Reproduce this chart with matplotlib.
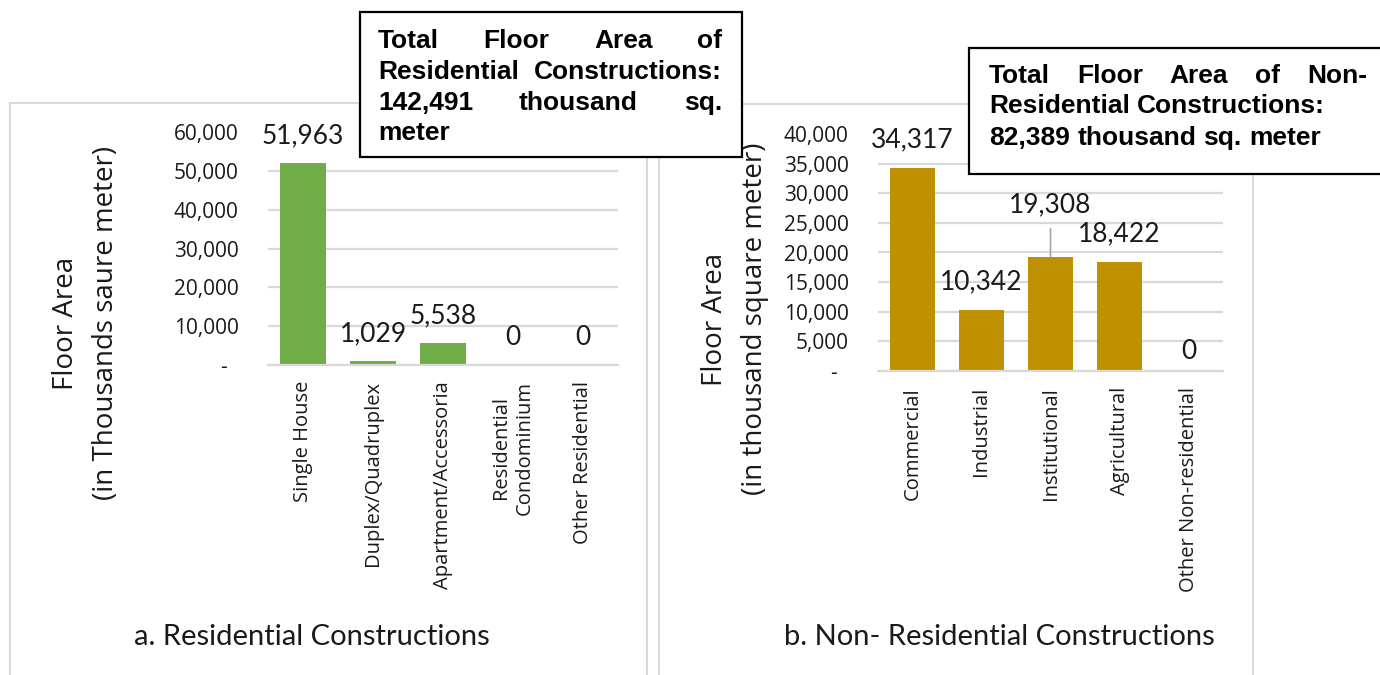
import matplotlib
matplotlib.use('Agg')
import matplotlib.pyplot as plt
from matplotlib.patches import Rectangle
from matplotlib.ticker import FuncFormatter

# ---------------- data ----------------
res_categories = ['Single House', 'Duplex/Quadruplex', 'Apartment/Accessoria',
                  'Residential\nCondominium', 'Other Residential']
res_values = [51963, 1029, 5538, 0, 0]
res_ticks = [0, 10000, 20000, 30000, 40000, 50000, 60000]
res_title = 'a. Residential Constructions'
res_ylabel = ['Floor Area', '(in Thousands saure meter)']
res_note_lines = ['Total Floor Area of', 'Residential Constructions:',
                  '142,491 thousand sq.', 'meter']

nonres_categories = ['Commercial', 'Industrial', 'Institutional', 'Agricultural',
                     'Other Non-residential']
nonres_values = [34317, 10342, 19308, 18422, 0]
nonres_ticks = [0, 5000, 10000, 15000, 20000, 25000, 30000, 35000, 40000]
nonres_title = 'b. Non- Residential Constructions'
nonres_ylabel = ['Floor Area', '(in thousand square meter)']
nonres_note_lines = ['Total Floor Area of Non-', 'Residential Constructions:',
                     '82,389 thousand sq. meter']

# ---------------- style ----------------
W, H = 1380, 675
GRID = '#d9d9d9'
TXT = '#1a1a1a'
fig = plt.figure(figsize=(W / 100, H / 100), dpi=100)


def fx(x):
    return x / W


def fy(y):
    return 1 - y / H


def yfmt(v, pos):
    return '-  ' if v == 0 else f'{v:,.0f}'


def make_panel(rect_px, cats, vals, ticks, color, label_offsets, leader_idx=None):
    x0, y0, x1, y1 = rect_px
    ax = fig.add_axes([fx(x0), fy(y1), (x1 - x0) / W, (y1 - y0) / H])
    xs = list(range(len(cats)))
    ax.bar(xs, vals, width=0.66, color=color, zorder=2)
    ax.set_xlim(-0.5, len(cats) - 0.5)
    ax.set_ylim(ticks[0], ticks[-1])
    ax.set_yticks(ticks)
    ax.yaxis.set_major_formatter(FuncFormatter(yfmt))
    ax.set_xticks(xs)
    ax.set_xticklabels(cats, rotation=90, fontsize=14.5, family='Open Sans',
                       color=TXT, multialignment='center')
    for lab in ax.get_yticklabels():
        lab.set_family('Open Sans')
    ax.tick_params(axis='y', length=0, pad=21, labelsize=15, labelcolor=TXT)
    ax.tick_params(axis='x', length=0, pad=11.5)
    for s in ['left', 'right', 'top']:
        ax.spines[s].set_visible(False)
    ax.spines['bottom'].set_color(GRID)
    ax.spines['bottom'].set_linewidth(1.6)
    ax.yaxis.grid(True, color=GRID, lw=1.6, zorder=0)
    ax.set_axisbelow(True)
    ax.get_ygridlines()[-1].set_visible(False)
    for i, v in enumerate(vals):
        kw = {}
        if leader_idx is not None and i == leader_idx:
            kw['arrowprops'] = dict(arrowstyle='-', color='#a6a6a6', lw=1.2,
                                    shrinkA=6, shrinkB=0)
        ax.annotate(f'{v:,}', (i, v), xytext=(0, label_offsets[i]),
                    textcoords='offset points', ha='center', va='baseline',
                    fontsize=19, family='Lato', color=TXT, zorder=3,
                    annotation_clip=False, **kw)
    return ax


# panel borders
fig.add_artist(Rectangle((fx(10), fy(700)), (647 - 10) / W, (700 - 103) / H,
                         fill=False, ec=GRID, lw=1.5, transform=fig.transFigure, zorder=0))
fig.add_artist(Rectangle((fx(659), fy(700)), (1253 - 659) / W, (700 - 104) / H,
                         fill=False, ec=GRID, lw=1.5, transform=fig.transFigure, zorder=0))

make_panel((268, 132, 618, 365), res_categories, res_values, res_ticks, '#70ad47',
           [14.5] * 5)
make_panel((878, 134, 1223, 371), nonres_categories, nonres_values, nonres_ticks,
           '#bf9000', [14.5, 14.5, 31.7, 14.5, 8.6], leader_idx=2)

# axis titles
for (x1, x2, yc, lines) in [(73, 113, 323, res_ylabel), (722, 762, 319, nonres_ylabel)]:
    for xb, t in zip((x1, x2), lines):
        fig.text(fx(xb), fy(yc), t, rotation=90, rotation_mode='anchor',
                 ha='center', va='baseline', family='Open Sans', fontsize=20, color=TXT)

# panel titles
fig.text(fx(312), fy(645), res_title, ha='center', va='baseline', family='Lato',
         fontsize=21, color=TXT)
fig.text(fx(999), fy(645), nonres_title, ha='center', va='baseline', family='Lato',
         fontsize=21, color=TXT)

# note boxes
fig.add_artist(Rectangle((fx(360), fy(157)), (742 - 360) / W, (157 - 12) / H,
                         fc='white', ec='black', lw=1.6, transform=fig.transFigure, zorder=5))
fig.add_artist(Rectangle((fx(969), fy(174)), (1400 - 969) / W, (174 - 48) / H,
                         fc='white', ec='black', lw=1.6, transform=fig.transFigure, zorder=5))

renderer = fig.canvas.get_renderer()
NOTE_SIZE = 19
SPACE_PX = 0.278 * NOTE_SIZE * 100 / 72


def justified(lines, flags, xl, xr, baselines):
    for line, just, yb in zip(lines, flags, baselines):
        words = line.split()
        ts = [fig.text(0, fy(yb), w, fontsize=NOTE_SIZE, fontweight='bold',
                       family='Liberation Sans', va='baseline', ha='left',
                       color='black', zorder=6) for w in words]
        widths = [t.get_window_extent(renderer).width for t in ts]
        if just and len(words) > 1:
            gap = (xr - xl - sum(widths)) / (len(words) - 1)
        else:
            gap = SPACE_PX
        x = xl
        for t, w in zip(ts, widths):
            t.set_x(fx(x))
            x += w + gap


justified(res_note_lines, [True, True, True, False], 378, 722, [48, 79, 110, 140])
justified(nonres_note_lines, [True, False, False], 989, 1367, [83, 113, 145])

fig.savefig('out.png', dpi=100, facecolor='white')
